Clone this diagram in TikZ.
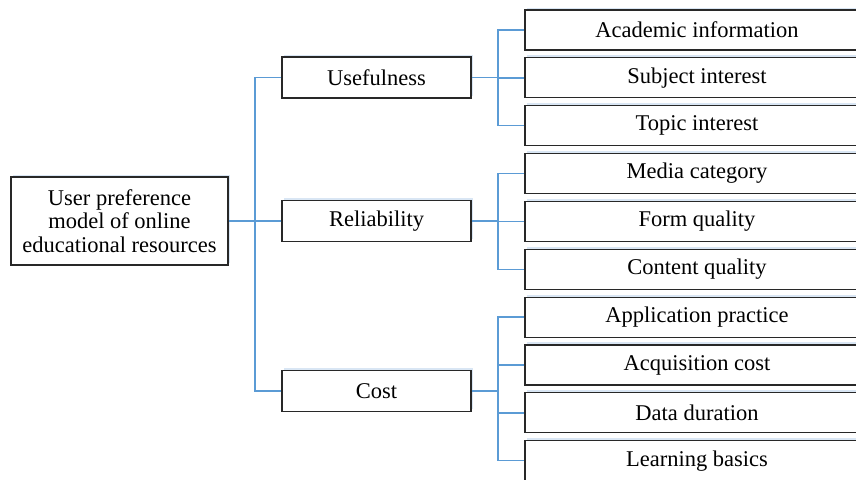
\documentclass[tikz,border=0pt]{standalone}
\usepackage{fontspec}
\setmainfont{Liberation Serif}
\usepackage{tikz}
\usetikzlibrary{calc,shadows}
\definecolor{linkblue}{RGB}{91,155,213}
\definecolor{boxline}{RGB}{40,40,40}
\definecolor{shadeblue}{RGB}{170,200,230}

\tikzset{
  boxbase/.style={draw=boxline, line width=1.2pt, fill=white, inner sep=0pt,
    align=center, font=\fontsize{22.5}{23.5}\selectfont,
    drop shadow={shadow xshift=1.5pt, shadow yshift=2.5pt, fill=shadeblue, opacity=0.45}},
  rootbox/.style={boxbase, minimum width=217pt, minimum height=88pt},
  midbox/.style={boxbase, minimum width=189pt, minimum height=41pt},
  leafbox/.style={boxbase, minimum width=344pt, minimum height=40pt},
  link/.style={draw=linkblue, line width=1.5pt}
}

\begin{document}
\begin{tikzpicture}[x=1pt,y=-1pt]
        \pgfmathsetmacro{\lx}{697}
        \pgfmathsetmacro{\mx}{376.5}
        \pgfmathsetmacro{\ly}{30}
        \pgfmathsetmacro{\dy}{47.85}
        \useasboundingbox (0,0) rectangle (856,479);
        \clip (0,0) rectangle (856,479);
        \coordinate (tL) at (255,0);
        \coordinate (tR) at (498,0);
        % root and second level
        \node[rootbox] (root) at (119.5,221) {User preference\\model of online\\educational resources};
        \node[midbox] (use) at (\mx,77.5) {Usefulness};
        \node[midbox] (rel) at (\mx,221) {Reliability};
        \node[midbox] (cost) at (\mx,391) {Cost};
        % leaves
        \node[leafbox] (u1) at (\lx,{\ly}) {Academic information};
        \node[leafbox] (u2) at (\lx,{\ly+\dy}) {Subject interest};
        \node[leafbox] (u3) at (\lx,{\ly+2*\dy}) {Topic interest};
        \node[leafbox] (r1) at (\lx,{\ly+3*\dy}) {Media category};
        \node[leafbox] (r2) at (\lx,{\ly+4*\dy}) {Form quality};
        \node[leafbox] (r3) at (\lx,{\ly+5*\dy}) {Content quality};
        \node[leafbox] (c1) at (\lx,{\ly+6*\dy}) {Application practice};
        \node[leafbox] (c2) at (\lx,{\ly+7*\dy}) {Acquisition cost};
        \node[leafbox] (c3) at (\lx,{\ly+8*\dy}) {Data duration};
        \node[leafbox] (c4) at (\lx,{\ly+9*\dy}) {Learning basics};
        % left links
        \draw[link] (root.east) -- (root.east -| tL);
        \draw[link] (use.west) -- (use.west -| tL) -- (cost.west -| tL) -- (cost.west);
        \draw[link] (rel.west) -- (rel.west -| tL);
        % right links
        \draw[link] (use.east) -- (use.east -| tR);
        \draw[link] (u1.west) -- (u1.west -| tR) -- (u3.west -| tR) -- (u3.west);
        \draw[link] (u2.west) -- (u2.west -| tR);
        \draw[link] (rel.east) -- (rel.east -| tR);
        \draw[link] (r1.west) -- (r1.west -| tR) -- (r3.west -| tR) -- (r3.west);
        \draw[link] (r2.west) -- (r2.west -| tR);
        \draw[link] (cost.east) -- (cost.east -| tR);
        \draw[link] (c1.west) -- (c1.west -| tR) -- (c4.west -| tR) -- (c4.west);
        \draw[link] (c2.west) -- (c2.west -| tR);
        \draw[link] (c3.west) -- (c3.west -| tR);
    \end{tikzpicture}
\end{document}
